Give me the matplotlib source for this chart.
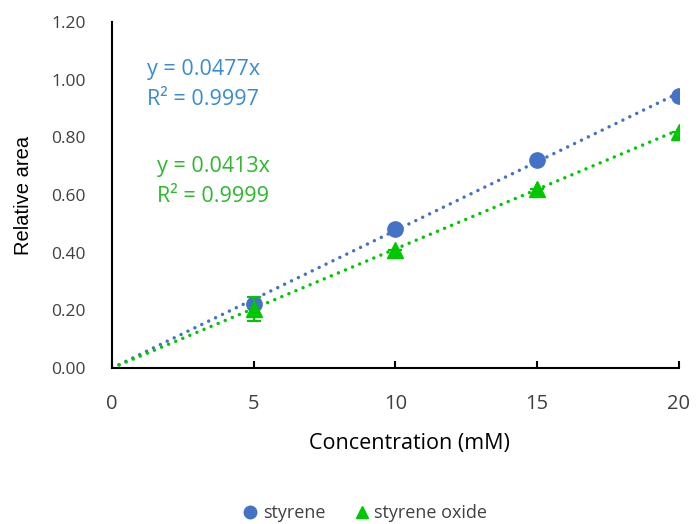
import matplotlib
matplotlib.use("Agg")
import matplotlib.pyplot as plt
from matplotlib.lines import Line2D
import numpy as np

plt.rcParams['font.family'] = ['Open Sans', 'DejaVu Sans']

conc = [5, 10, 15, 20]
styrene = [0.222, 0.483, 0.722, 0.945]
styrene_err = [0.0, 0.0, 0.0, 0.0]
oxide = [0.205, 0.410, 0.622, 0.820]
oxide_err = [0.042, 0.0, 0.0, 0.0]
slope_styrene = 0.0477
slope_oxide = 0.0413
r2_styrene = '0.9997'
r2_oxide = '0.9999'
x_ticks = [0, 5, 10, 15, 20]
y_ticks = [0.0, 0.2, 0.4, 0.6, 0.8, 1.0, 1.2]

blue = '#4472C4'
green = '#00C800'

fig = plt.figure(figsize=(6.97, 5.24), dpi=100)
ax = fig.add_axes([0.1607, 0.2977, 0.8133, 0.6603])

# linear fits through the origin
fit_x = np.array([0, 20])
for slope, col in [(slope_styrene, blue), (slope_oxide, green)]:
    ax.plot(fit_x, slope * fit_x, linestyle=(0, (0.01, 2.2)), dash_capstyle='round',
            color=col, lw=2.5, zorder=2)

ax.errorbar(conc, styrene, yerr=styrene_err, fmt='o', color=blue, ms=11,
            ecolor=blue, elinewidth=1.5, capsize=5, capthick=1.5, zorder=3)
ax.errorbar(conc, oxide, yerr=oxide_err, fmt='^', color=green, ms=11.5,
            ecolor=green, elinewidth=1.5, capsize=5, capthick=1.5, zorder=4)

ax.set_xlim(0, 20)
ax.set_ylim(0, 1.2)
ax.set_xticks(x_ticks)
ax.set_yticks(y_ticks)
ax.set_yticklabels([f'{v:.2f}' for v in y_ticks])
ax.tick_params(axis='y', length=0, labelsize=12.5, colors='#404040', pad=19)
ax.tick_params(axis='x', direction='in', length=5, width=1.5, color='black',
               labelsize=14.5, labelcolor='#404040', pad=19)
for s in ['top', 'right']:
    ax.spines[s].set_visible(False)
for s in ['left', 'bottom']:
    ax.spines[s].set_color('black')
    ax.spines[s].set_linewidth(1.5)

ax.set_xlabel('Concentration (mM)', fontsize=15.5, color='black')
ax.xaxis.set_label_coords(0.524, -0.217)
ax.xaxis.label.set_va('center')
ax.set_ylabel('Relative area', fontsize=14.5, family=['Liberation Sans', 'DejaVu Sans'],
              color='black')
ax.yaxis.set_label_coords(-0.157, 0.5)
ax.yaxis.label.set_va('center')

ax.text(0.061, 0.819, f'y = {slope_styrene}x\nR² = {r2_styrene}', transform=ax.transAxes,
        color='#3A8CCF', fontsize=15.5, va='center', ha='left', linespacing=1.55)
ax.text(0.079, 0.538, f'y = {slope_oxide}x\nR² = {r2_oxide}', transform=ax.transAxes,
        color='#2DB82D', fontsize=15.5, va='center', ha='left', linespacing=1.55)

handles = [Line2D([], [], ls='none', marker='o', color=blue, ms=9),
           Line2D([], [], ls='none', marker='^', color=green, ms=9)]
fig.legend(handles, ['styrene', 'styrene oxide'], loc='center',
           bbox_to_anchor=(0.524, 0.021), ncol=2, frameon=False, fontsize=13,
           handlelength=0.8, handletextpad=0.3, columnspacing=1.6,
           labelcolor='#404040')

fig.savefig('out.png', dpi=100)
